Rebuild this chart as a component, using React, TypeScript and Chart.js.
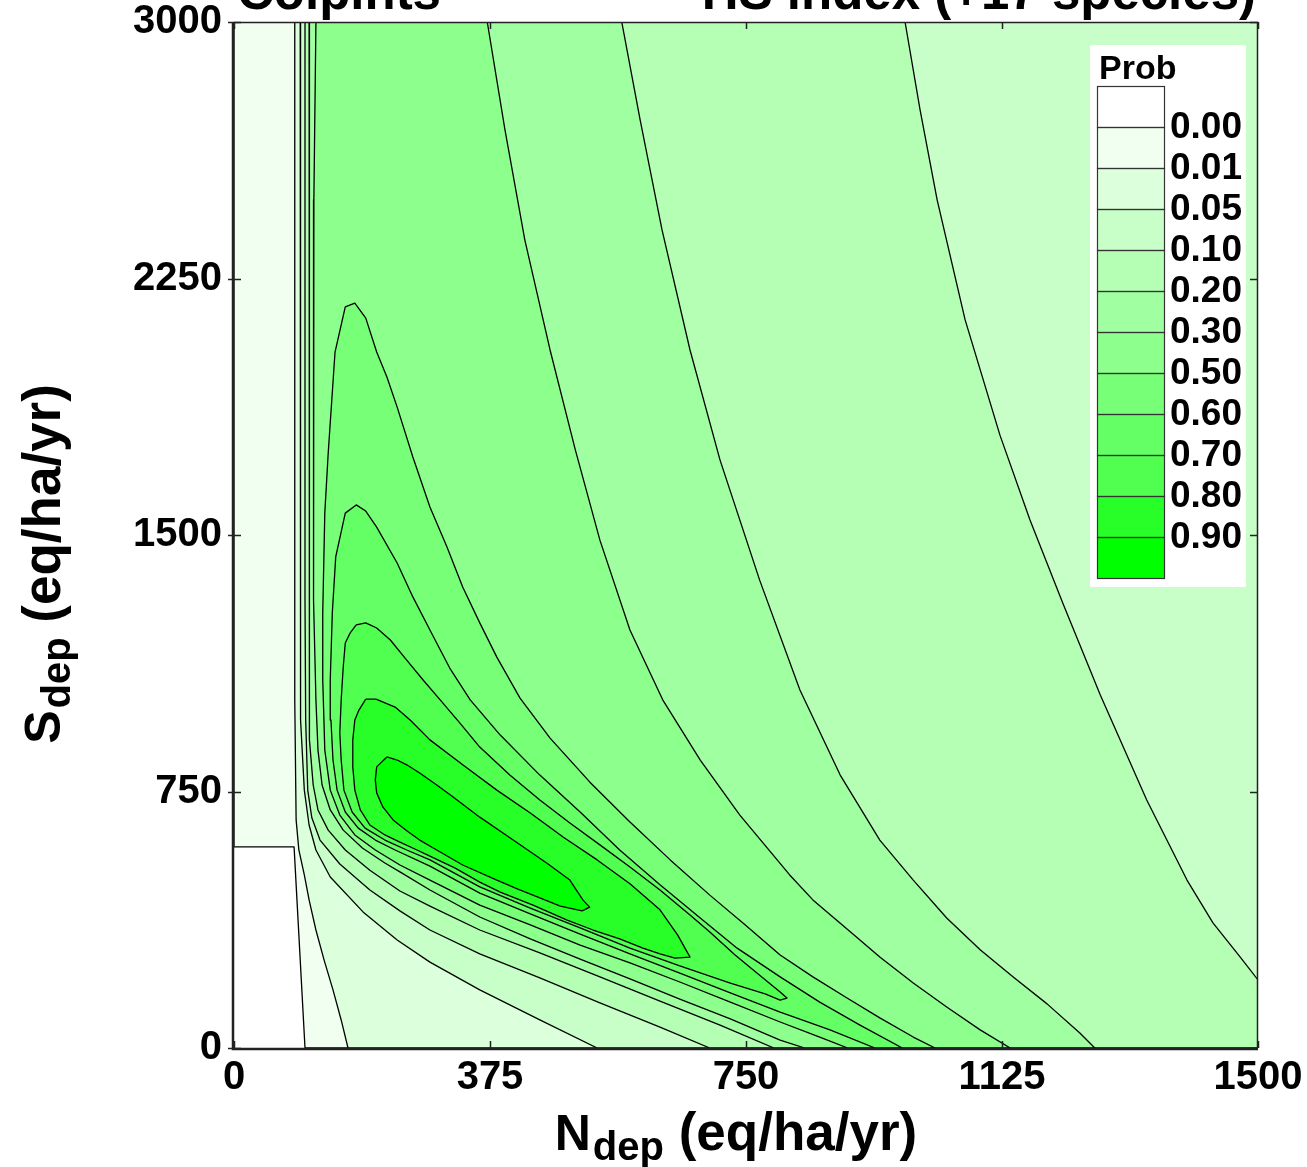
import React, { useEffect, useRef } from 'react';
import { Chart, registerables } from 'chart.js';

Chart.register(...registerables);

type Pt = [number, number];

const FONT = '"Liberation Sans", Arial, Helvetica, sans-serif';

const X_MAX = 1500;
const Y_MAX = 3000;
const xTickValues = [0, 375, 750, 1125, 1500];
const yTickValues = [0, 750, 1500, 2250, 3000];
const levelLabels = ['0.00', '0.01', '0.05', '0.10', '0.20', '0.30', '0.50', '0.60', '0.70', '0.80', '0.90'];
const bandColors = ['#ffffff', '#f0fff0', '#dcffdc', '#c8ffc8', '#b4ffb4', '#a0ffa0', '#8cff8c', '#78ff78', '#64ff64', '#50ff50', '#28ff28', '#00ff00'];
const titleLeft = 'Colpints';
const titleRight = 'HS index (+17 species)';
const legendTitle = 'Prob';

// Contour lines, [N_dep, S_dep] in eq/ha/yr
const contour000: Pt[] = [[0, 588], [88, 588], [104, 0]];
const contour001: Pt[] = [[89, 3000], [89, 1018], [91, 667], [95, 579], [103, 506], [110, 433], [120, 345], [132, 257], [145, 170], [157, 82], [167, 0]];
const contour005: Pt[] = [[97, 3000], [97, 1310], [98, 959], [103, 754], [110, 652], [120, 579], [141, 500], [189, 398], [239, 316], [287, 251], [360, 170], [448, 82], [532, 0]];
const contour010Left: Pt[] = [[104, 3000], [104, 1310], [105, 959], [108, 754], [114, 673], [126, 608], [155, 538], [199, 462], [243, 401], [287, 345], [360, 275], [448, 205], [536, 132], [624, 61], [697, 0]];
const contour010Right: Pt[] = [[983, 3000], [1005, 2743], [1030, 2480], [1071, 2129], [1122, 1792], [1166, 1544], [1214, 1301], [1269, 1032], [1337, 725], [1396, 491], [1434, 366], [1474, 266], [1500, 199]];
const contour020Left: Pt[] = [[110, 3000], [110, 1164], [111, 901], [116, 769], [123, 696], [138, 637], [163, 579], [199, 520], [243, 459], [287, 415], [360, 345], [448, 278], [536, 208], [624, 137], [712, 67], [791, 0]];
const contour020Right: Pt[] = [[568, 3000], [595, 2713], [627, 2392], [668, 2041], [712, 1719], [770, 1368], [829, 1047], [888, 798], [946, 608], [995, 491], [1044, 380], [1093, 287], [1141, 208], [1191, 129], [1239, 44], [1261, 0]];
const contour030Left: Pt[] = [[120, 3000], [117, 2480], [116, 1895], [117, 1310], [120, 1018], [123, 871], [129, 769], [141, 696], [160, 637], [188, 585], [221, 541], [243, 515], [287, 462], [360, 383], [434, 319], [507, 260], [580, 202], [653, 143], [727, 85], [800, 23], [836, 0]];
const contour030Right: Pt[] = [[371, 3000], [397, 2684], [426, 2363], [463, 2041], [500, 1749], [536, 1485], [580, 1222], [628, 1018], [683, 842], [741, 681], [814, 506], [848, 433], [898, 348], [946, 266], [995, 190], [1044, 120], [1093, 53], [1137, 0]];
const contour050: Pt[] = [[899, 0], [858, 32], [800, 76], [727, 134], [653, 193], [580, 249], [507, 301], [434, 360], [360, 418], [287, 491], [243, 535], [207, 579], [177, 623], [155, 681], [141, 754], [133, 871], [130, 1076], [130, 1272], [133, 1564], [138, 1740], [148, 2035], [163, 2167], [177, 2178], [193, 2134], [209, 2035], [224, 1962], [239, 1874], [262, 1728], [287, 1582], [312, 1465], [335, 1348], [360, 1243], [385, 1143], [419, 1023], [463, 906], [521, 778], [580, 661], [639, 550], [697, 447], [749, 360], [800, 272], [848, 208], [898, 146], [946, 88], [995, 32], [1027, 0]];
const contour060: Pt[] = [[939, 0], [873, 53], [800, 105], [727, 161], [653, 219], [580, 275], [507, 333], [434, 392], [360, 453], [287, 532], [236, 579], [207, 608], [182, 643], [163, 690], [151, 754], [145, 842], [142, 959], [141, 1076], [144, 1272], [149, 1436], [163, 1564], [179, 1588], [193, 1570], [209, 1523], [239, 1418], [262, 1319], [287, 1222], [316, 1111], [346, 1018], [390, 915], [448, 798], [507, 690], [565, 579], [624, 477], [683, 380], [737, 292], [800, 208], [858, 134], [917, 67], [979, 0]];
const contour070: Pt[] = [[179, 1237], [193, 1243], [209, 1228], [229, 1193], [253, 1134], [277, 1076], [302, 1018], [331, 950], [360, 880], [404, 798], [448, 725], [492, 658], [536, 594], [580, 529], [624, 462], [668, 389], [697, 339], [734, 272], [770, 213], [800, 164], [810, 146], [800, 140], [778, 158], [727, 190], [653, 240], [580, 292], [507, 351], [434, 409], [360, 471], [287, 550], [253, 579], [221, 608], [192, 643], [173, 690], [161, 754], [157, 842], [155, 921], [157, 1018], [160, 1114], [163, 1184], [170, 1213]];
const contour080: Pt[] = [[193, 1020], [208, 1020], [236, 997], [258, 959], [287, 901], [335, 828], [385, 754], [434, 687], [482, 617], [532, 550], [580, 480], [624, 404], [650, 330], [662, 287], [668, 266], [646, 263], [624, 275], [599, 292], [565, 319], [526, 345], [488, 374], [438, 418], [390, 456], [360, 485], [324, 526], [287, 561], [268, 579], [243, 602], [221, 623], [199, 652], [185, 696], [177, 754], [174, 822], [174, 901], [177, 959], [183, 988]];
const contour090: Pt[] = [[224, 851], [239, 842], [253, 828], [272, 804], [297, 769], [321, 734], [360, 675], [409, 608], [458, 541], [492, 491], [511, 433], [521, 412], [510, 401], [478, 415], [448, 439], [415, 465], [385, 491], [335, 535], [297, 579], [272, 608], [253, 635], [233, 667], [218, 705], [209, 746], [207, 784], [209, 822]];

const rev = (p: Pt[]): Pt[] => [...p].reverse();
const closeLoop = (p: Pt[]): Pt[] => [...p, p[0]];

// Regions where probability >= level, in level order
const regions: Pt[][] = [
  [[0, Y_MAX], [X_MAX, Y_MAX], [X_MAX, 0], ...rev(contour000), [0, Y_MAX]],
  [...contour001, [X_MAX, 0], [X_MAX, Y_MAX], contour001[0]],
  [...contour005, [X_MAX, 0], [X_MAX, Y_MAX], contour005[0]],
  [...contour010Left, [X_MAX, 0], ...rev(contour010Right), contour010Left[0]],
  [...contour020Left, ...rev(contour020Right), contour020Left[0]],
  [...contour030Left, ...rev(contour030Right), contour030Left[0]],
  closeLoop(contour050),
  closeLoop(contour060),
  closeLoop(contour070),
  closeLoop(contour080),
  closeLoop(contour090),
];

type Part = { t: string; size: number; dy: number; gap: number };

function partsWidth(ctx: CanvasRenderingContext2D, parts: Part[]) {
  let w = 0;
  for (const p of parts) {
    ctx.font = `bold ${p.size}px ${FONT}`;
    w += ctx.measureText(p.t).width + p.gap;
  }
  return w;
}

function drawParts(ctx: CanvasRenderingContext2D, parts: Part[], x: number, y: number) {
  let cx = x;
  ctx.textAlign = 'left';
  ctx.textBaseline = 'alphabetic';
  for (const p of parts) {
    ctx.font = `bold ${p.size}px ${FONT}`;
    ctx.fillText(p.t, cx, y + p.dy);
    cx += ctx.measureText(p.t).width + p.gap;
  }
}

const xTitleParts: Part[] = [
  { t: 'N', size: 50, dy: 0, gap: 2 },
  { t: 'dep', size: 40, dy: 10, gap: 0 },
  { t: ' (eq/ha/yr)', size: 53, dy: 0, gap: 0 },
];
const yTitleParts: Part[] = [
  { t: 'S', size: 50, dy: 0, gap: 2 },
  { t: 'dep', size: 40, dy: 10, gap: 0 },
  { t: ' (eq/ha/yr)', size: 53, dy: 0, gap: 0 },
];

const overlayPlugin = {
  id: 'contourOverlay',
  afterDraw(chart: any) {
    const { ctx, chartArea: a } = chart;
    const xs = chart.scales.x;
    const ys = chart.scales.y;
    ctx.save();

    // Legend (colour key)
    const lx = a.right - 168;
    const ly = a.top + 23;
    ctx.fillStyle = '#ffffff';
    ctx.fillRect(lx, ly, 156, 542);
    ctx.fillStyle = '#000';
    ctx.font = `bold 34px ${FONT}`;
    ctx.textAlign = 'left';
    ctx.textBaseline = 'alphabetic';
    ctx.fillText(legendTitle, lx + 9, ly + 34);
    const sx = lx + 7, sw = 67, st = ly + 41, sh = 41;
    bandColors.forEach((c, i) => {
      ctx.fillStyle = c;
      ctx.fillRect(sx, st + i * sh, sw, sh);
    });
    ctx.strokeStyle = '#333';
    ctx.lineWidth = 1.2;
    bandColors.forEach((_c, i) => ctx.strokeRect(sx + 0.5, st + i * sh + 0.5, sw, sh));
    ctx.fillStyle = '#000';
    ctx.font = `bold 37px ${FONT}`;
    ctx.textBaseline = 'middle';
    levelLabels.forEach((t, i) => ctx.fillText(t, lx + 80, st + (i + 1) * sh + 1));

    // Frame
    ctx.strokeStyle = '#222';
    ctx.lineWidth = 1.5;
    ctx.beginPath();
    ctx.moveTo(a.left, a.top + 0.5);
    ctx.lineTo(a.right - 0.5, a.top + 0.5);
    ctx.lineTo(a.right - 0.5, a.bottom);
    ctx.stroke();
    ctx.lineWidth = 2.5;
    ctx.beginPath();
    ctx.moveTo(a.left - 1, a.top);
    ctx.lineTo(a.left - 1, a.bottom + 1);
    ctx.lineTo(a.right, a.bottom + 1);
    ctx.stroke();

    // Inward ticks on all four sides
    ctx.lineWidth = 1.5;
    ctx.beginPath();
    for (const v of xTickValues) {
      const px = Math.round(xs.getPixelForValue(v)) + 0.5;
      ctx.moveTo(px, a.bottom); ctx.lineTo(px, a.bottom - 7);
      ctx.moveTo(px, a.top); ctx.lineTo(px, a.top + 7);
    }
    for (const v of yTickValues) {
      const py = Math.round(ys.getPixelForValue(v)) + 0.5;
      ctx.moveTo(a.left - 6, py); ctx.lineTo(a.left + 7, py);
      ctx.moveTo(a.right, py); ctx.lineTo(a.right - 8, py);
    }
    ctx.stroke();

    // Axis titles
    ctx.fillStyle = '#000';
    const wx = partsWidth(ctx, xTitleParts);
    drawParts(ctx, xTitleParts, 736 - wx / 2, 1150);
    const wy = partsWidth(ctx, yTitleParts);
    ctx.save();
    ctx.translate(60, 564);
    ctx.rotate(-Math.PI / 2);
    drawParts(ctx, yTitleParts, -wy / 2, 0);
    ctx.restore();

    // Header text (cut off by the top of the picture)
    ctx.font = `bold 51px ${FONT}`;
    ctx.textBaseline = 'alphabetic';
    ctx.textAlign = 'left';
    ctx.fillText(titleLeft, a.left + 3, 9);
    ctx.textAlign = 'right';
    ctx.fillText(titleRight, a.right - 2, 9);

    ctx.restore();
  },
};

export default function App() {
  const ref = useRef<HTMLCanvasElement | null>(null);

  useEffect(() => {
    const canvas = ref.current;
    if (!canvas) return;
    const datasets = regions.map((pts, k) => ({
      label: levelLabels[k],
      data: pts.map(([x, y]) => ({ x, y })),
      backgroundColor: bandColors[k + 1],
      borderColor: '#000000',
      borderWidth: 1.3,
      borderJoinStyle: 'round',
      fill: 'shape',
      pointRadius: 0,
      pointHoverRadius: 0,
      pointHitRadius: 0,
      tension: 0,
      order: regions.length - k,
    }));
    const tickFont = { family: FONT, size: 40, weight: 'bold', lineHeight: 1 };
    const chart = new Chart(canvas, {
      type: 'line',
      data: { datasets } as any,
      options: {
        responsive: false,
        animation: false,
        devicePixelRatio: 1,
        events: [],
        layout: { padding: { left: 0, top: 22, right: 49, bottom: 0 } },
        plugins: {
          legend: { display: false },
          tooltip: { enabled: false },
          title: { display: false },
        },
        scales: {
          x: {
            type: 'linear',
            position: 'bottom',
            min: 0,
            max: X_MAX,
            afterFit: (s: any) => { s.height = 119; s.paddingLeft = 0; s.paddingRight = 0; },
            afterBuildTicks: (s: any) => { s.ticks = xTickValues.map((value) => ({ value })); },
            grid: { display: false, drawTicks: false },
            border: { display: false },
            ticks: { font: tickFont, color: '#000', padding: 10, maxRotation: 0, autoSkip: false, callback: (v: any) => String(v) },
          },
          y: {
            type: 'linear',
            position: 'left',
            min: 0,
            max: Y_MAX,
            afterFit: (s: any) => { s.width = 234; s.paddingTop = 0; s.paddingBottom = 0; },
            afterBuildTicks: (s: any) => { s.ticks = yTickValues.map((value) => ({ value })); },
            grid: { display: false, drawTicks: false },
            border: { display: false },
            ticks: { font: tickFont, color: '#000', padding: 12, autoSkip: false, callback: (v: any) => String(v) },
          },
        },
      } as any,
      plugins: [overlayPlugin],
    });
    return () => chart.destroy();
  }, []);

  return (
    <div style={{ position: 'fixed', left: 0, top: 0, width: 1307, height: 1167, background: '#ffffff' }}>
      <canvas ref={ref} width={1307} height={1167} style={{ display: 'block', width: 1307, height: 1167 }} />
    </div>
  );
}
